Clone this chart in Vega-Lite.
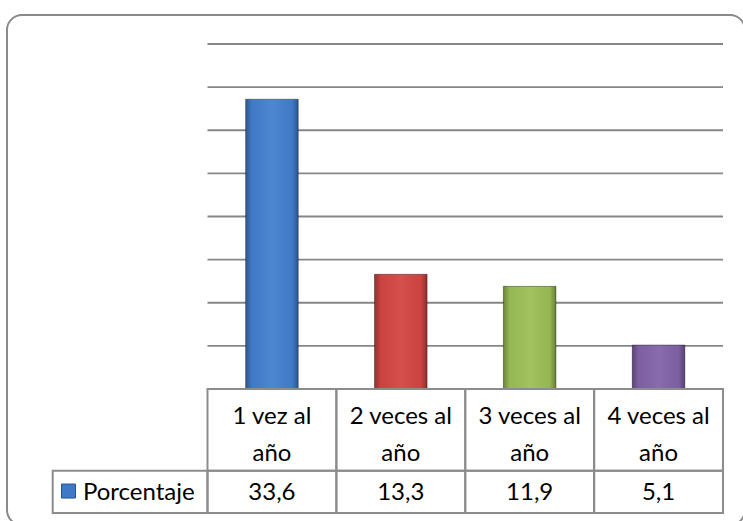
{
  "$schema": "https://vega.github.io/schema/vega-lite/v6.json",
  "width": 738,
  "height": 510,
  "padding": {"left": 7, "top": 15, "right": 0, "bottom": 0},
  "autosize": {"type": "none"},
  "background": "white",
  "view": {"stroke": "#8a8a8a", "strokeWidth": 2, "cornerRadius": 15, "fill": "white"},
  "config": {
    "font": "Lato",
    "locale": {"number": {"decimal": ",", "thousands": ".", "grouping": [3], "currency": ["", " €"]}}
  },
  "datasets": {
    "frecuencia": [
      {"cat": "1 vez al año", "label": "1 vez al\naño", "value": 33.6},
      {"cat": "2 veces al año", "label": "2 veces al\naño", "value": 13.3},
      {"cat": "3 veces al año", "label": "3 veces al\naño", "value": 11.9},
      {"cat": "4 veces al año", "label": "4 veces al\naño", "value": 5.1}
    ],
    "serie": [{"serie": "Porcentaje"}],
    "rejilla": [{"y": 5}, {"y": 10}, {"y": 15}, {"y": 20}, {"y": 25}, {"y": 30}, {"y": 35}, {"y": 40}]
  },
  "data": {"name": "frecuencia"},
  "resolve": {"scale": {"x": "independent"}},
  "layer": [
    {
      "data": {"name": "rejilla"},
      "mark": {"type": "rule", "stroke": "#868686", "strokeWidth": 1.8},
      "encoding": {
        "x": {"datum": 0, "type": "quantitative", "axis": null, "scale": {"domain": [-0.38894, 1.04268], "nice": false, "zero": false}},
        "x2": {"datum": 1},
        "y": {"field": "y", "type": "quantitative", "axis": null, "scale": {"domain": [-15.768, 43.362], "nice": false, "zero": false}}
      }
    },
    {
      "layer": [
        {
          "mark": {"type": "bar", "width": {"band": 0.408}},
          "encoding": {
            "x": {"field": "cat", "type": "nominal", "sort": null, "axis": null, "scale": {"paddingInner": 0, "paddingOuter": 0.86324, "align": 0.90112}},
            "y": {"field": "value", "type": "quantitative", "stack": null, "axis": null, "scale": {"domain": [-15.768, 43.362], "nice": false, "zero": false}},
            "y2": {"datum": 0},
            "color": {"field": "cat", "type": "nominal", "sort": null, "legend": null, "scale": {"range": ["#437fcf", "#d34643", "#9cbf56", "#8263a9"]}}
          }
        },
        {
          "mark": {
            "type": "bar",
            "width": {"band": 0.408},
            "stroke": "rgba(0,0,0,0.35)",
            "strokeWidth": 1,
            "fill": {
              "gradient": "linear", "x1": 0, "y1": 0, "x2": 1, "y2": 0,
              "stops": [
                {"offset": 0, "color": "rgba(0,0,0,0.30)"},
                {"offset": 0.12, "color": "rgba(0,0,0,0.04)"},
                {"offset": 0.5, "color": "rgba(255,255,255,0.06)"},
                {"offset": 0.88, "color": "rgba(0,0,0,0.04)"},
                {"offset": 1, "color": "rgba(0,0,0,0.32)"}
              ]
            }
          },
          "encoding": {
            "x": {"field": "cat", "type": "nominal", "sort": null, "axis": null, "scale": {"paddingInner": 0, "paddingOuter": 0.86324, "align": 0.90112}},
            "y": {"field": "value", "type": "quantitative", "stack": null, "axis": null, "scale": {"domain": [-15.768, 43.362], "nice": false, "zero": false}},
            "y2": {"datum": 0}
          }
        },
        {
          "mark": {"type": "rect", "fill": null, "stroke": "#8c8c8c", "strokeWidth": 2},
          "encoding": {
            "x": {"field": "cat", "type": "nominal", "sort": null, "axis": null, "scale": {"paddingInner": 0, "paddingOuter": 0.86324, "align": 0.90112}},
            "y": {"datum": 0, "type": "quantitative", "axis": null, "scale": {"domain": [-15.768, 43.362], "nice": false, "zero": false}},
            "y2": {"datum": -9.472}
          }
        },
        {
          "mark": {"type": "rect", "fill": null, "stroke": "#8c8c8c", "strokeWidth": 2},
          "encoding": {
            "x": {"field": "cat", "type": "nominal", "sort": null, "axis": null, "scale": {"paddingInner": 0, "paddingOuter": 0.86324, "align": 0.90112}},
            "y": {"datum": -9.472, "type": "quantitative", "axis": null, "scale": {"domain": [-15.768, 43.362], "nice": false, "zero": false}},
            "y2": {"datum": -14.377}
          }
        },
        {
          "mark": {"type": "text", "lineBreak": "\n", "fontSize": 24, "lineHeight": 37, "baseline": "alphabetic", "align": "center", "color": "#000000"},
          "encoding": {
            "x": {"field": "cat", "type": "nominal", "sort": null, "axis": null, "scale": {"paddingInner": 0, "paddingOuter": 0.86324, "align": 0.90112}},
            "y": {"datum": -4.0, "type": "quantitative", "axis": null, "scale": {"domain": [-15.768, 43.362], "nice": false, "zero": false}},
            "text": {"field": "label", "type": "nominal"}
          }
        },
        {
          "mark": {"type": "text", "fontSize": 24, "baseline": "alphabetic", "align": "center", "color": "#000000"},
          "encoding": {
            "x": {"field": "cat", "type": "nominal", "sort": null, "axis": null, "scale": {"paddingInner": 0, "paddingOuter": 0.86324, "align": 0.90112}},
            "y": {"datum": -12.9, "type": "quantitative", "axis": null, "scale": {"domain": [-15.768, 43.362], "nice": false, "zero": false}},
            "text": {"field": "value", "type": "quantitative", "format": ".1f"}
          }
        }
      ]
    },
    {
      "data": {"name": "serie"},
      "layer": [
        {
          "mark": {"type": "rect", "fill": null, "stroke": "#8c8c8c", "strokeWidth": 2},
          "encoding": {
            "x": {"field": "serie", "type": "nominal", "axis": null, "scale": {"paddingInner": 0.46914, "paddingOuter": 1, "align": 0.07836}},
            "y": {"datum": -9.472, "type": "quantitative", "axis": null, "scale": {"domain": [-15.768, 43.362], "nice": false, "zero": false}},
            "y2": {"datum": -14.377}
          }
        },
        {
          "mark": {"type": "point", "shape": "square", "filled": true, "size": 196, "opacity": 1, "fill": "#3f78c4", "stroke": "#24538f", "strokeWidth": 1},
          "encoding": {
            "x": {"field": "serie", "type": "nominal", "bandPosition": 0.102, "axis": null, "scale": {"paddingInner": 0.46914, "paddingOuter": 1, "align": 0.07836}},
            "y": {"datum": -11.83, "type": "quantitative", "axis": null, "scale": {"domain": [-15.768, 43.362], "nice": false, "zero": false}}
          }
        },
        {
          "mark": {"type": "text", "fontSize": 24, "baseline": "alphabetic", "align": "left", "color": "#000000"},
          "encoding": {
            "x": {"field": "serie", "type": "nominal", "bandPosition": 0.195, "axis": null, "scale": {"paddingInner": 0.46914, "paddingOuter": 1, "align": 0.07836}},
            "y": {"datum": -12.9, "type": "quantitative", "axis": null, "scale": {"domain": [-15.768, 43.362], "nice": false, "zero": false}},
            "text": {"field": "serie", "type": "nominal"}
          }
        }
      ]
    }
  ]
}
